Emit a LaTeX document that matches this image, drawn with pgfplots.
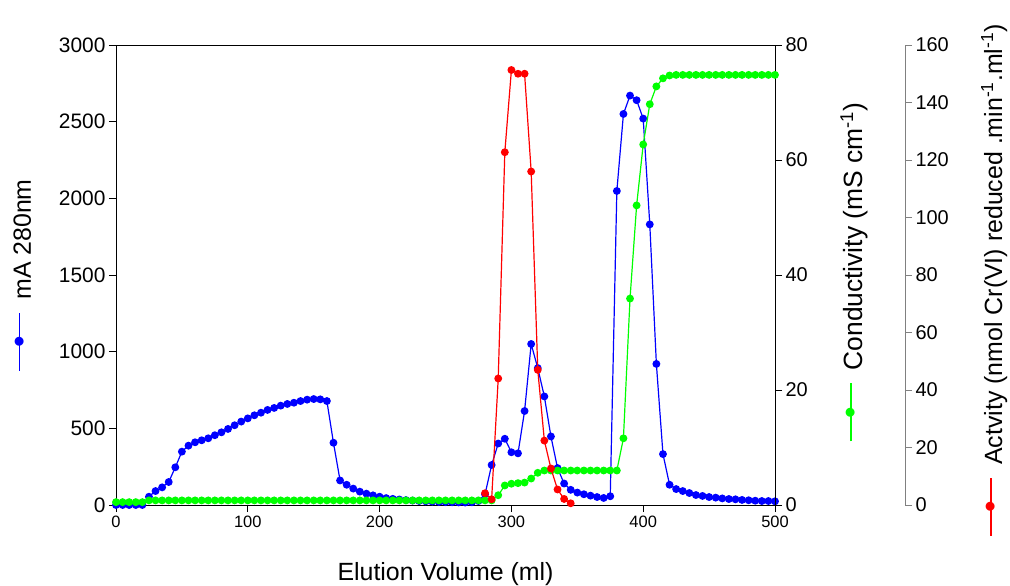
\documentclass[border=0pt]{standalone}
\usepackage{fontspec}
\setmainfont{Liberation Sans}
\usepackage{pgfplots}
\pgfplotsset{compat=1.18}
\definecolor{cblue}{RGB}{0,0,255}
\definecolor{cgreen}{RGB}{0,255,0}
\definecolor{cred}{RGB}{255,0,0}
\newcommand\legsym[1]{{\color{#1}\rlap{\rule[10.5bp]{58bp}{1.3bp}}\makebox[58bp][c]{\raisebox{0.4bp}{\fontsize{33}{33}\selectfont\textbullet}}}}
\pgfplotsset{
  every axis/.append style={
    scale only axis, width=659bp, height=460bp,
    at={(0,0)}, anchor=south west, clip=false,
    /pgf/number format/assume math mode=true,
    /pgf/number format/1000 sep={},
    tick align=outside, major tick length=7bp,
    axis line style={line width=0.8bp},
    every tick/.style={line width=0.8bp, black},
  },
  dat/.style={color=#1, line width=1.2bp, mark=*, mark size=3.3bp, mark options={solid, fill=#1}},
}
\pgfplotstableread{
x y
0 0
5 0
10 0
15 0
20 0
25 54
30 91
35 115
40 150
45 246
50 348
55 387
60 409
65 422
70 435
75 455
80 474
85 496
90 520
95 544
100 565
105 585
110 602
115 620
120 633
125 648
130 659
135 667
140 678
145 687
150 691
155 689
160 678
165 406
170 160
175 132
180 107
185 87
190 74
195 63
200 54
205 45
210 40
215 36
220 32
225 29
230 26
235 24
240 22
245 20
250 19
255 18
260 17
265 16
270 18
275 26
280 70
285 261
290 401
295 432
300 344
305 337
310 613
315 1050
320 893
325 708
330 447
335 241
340 140
345 99
350 81
355 70
360 61
365 52
370 46
375 57
380 2048
385 2550
390 2670
395 2640
400 2520
405 1830
410 920
415 332
420 132
425 104
430 91
435 78
440 65
445 59
450 52
455 48
460 43
465 39
470 37
475 33
480 31
485 28
490 26
495 26
500 24
}\absdata
\pgfplotstableread{
x y
0 0.5
5 0.5
10 0.5
15 0.5
20 0.5
25 0.8
30 0.8
35 0.8
40 0.8
45 0.8
50 0.8
55 0.8
60 0.8
65 0.8
70 0.8
75 0.8
80 0.8
85 0.8
90 0.8
95 0.8
100 0.8
105 0.8
110 0.8
115 0.8
120 0.8
125 0.8
130 0.8
135 0.8
140 0.8
145 0.8
150 0.8
155 0.8
160 0.8
165 0.8
170 0.8
175 0.8
180 0.8
185 0.8
190 0.8
195 0.8
200 0.8
205 0.8
210 0.8
215 0.8
220 0.8
225 0.8
230 0.8
235 0.8
240 0.8
245 0.8
250 0.8
255 0.8
260 0.8
265 0.8
270 0.8
275 0.8
280 0.8
285 0.8
290 1.7
295 3.4
300 3.7
305 3.8
310 3.9
315 4.6
320 5.6
325 6.0
330 6.0
335 6.0
340 6.0
345 6.0
350 6.0
355 6.0
360 6.0
365 6.0
370 6.0
375 6.0
380 6.0
385 11.6
390 35.9
395 52.1
400 62.7
405 69.7
410 72.8
415 74.2
420 74.7
425 74.8
430 74.8
435 74.8
440 74.8
445 74.8
450 74.8
455 74.8
460 74.8
465 74.8
470 74.8
475 74.8
480 74.8
485 74.8
490 74.8
495 74.8
500 74.8
}\conddata
\pgfplotstableread{
x y
280 4.1
285 2.0
290 44
295 122.7
300 151.3
305 150
310 150
315 116
320 47
325 22.4
330 12.7
335 5.4
340 2.1
345 0.6
}\actdata
\begin{document}
\begin{tikzpicture}
\useasboundingbox (-116bp,-81bp) rectangle (894bp,505bp);
\begin{axis}[
  xmin=0, xmax=500, ymin=0, ymax=3000,
  xtick={0,100,...,500}, ytick={0,500,...,3000},
  xtick pos=bottom, ytick pos=left,
  xticklabel style={font=\fontsize{16.5}{18}\selectfont},
  yticklabel style={font=\fontsize{21}{24}\selectfont},
  xlabel={Elution Volume (ml)},
  xlabel style={font=\fontsize{25}{28}\selectfont, at={(axis description cs:0.5,0)}, anchor=base, yshift=-75bp},
]
\addplot[dat=cblue] table[x=x,y=y] {\absdata};
\end{axis}
\begin{axis}[
  xmin=0, xmax=500, ymin=0, ymax=80,
  hide x axis, axis y line*=right,
  ytick={0,20,...,80},
  yticklabel style={font=\fontsize{20}{24}\selectfont},
]
\addplot[dat=cgreen] table[x=x,y=y] {\conddata};
\end{axis}
\begin{axis}[
  at={(130bp,0)},
  xmin=98.634, xmax=598.634, ymin=0, ymax=160,
  hide x axis, axis y line*=right,
  y axis line style={gray},
  ytick style={gray},
  ytick={0,20,...,160},
  yticklabel style={font=\fontsize{20}{24}\selectfont},
]
\addplot[dat=cred] table[x=x,y=y] {\actdata};
\end{axis}
\node[rotate=90, anchor=base, font=\fontsize{25}{28}\selectfont] at (-85bp,230bp) {\legsym{cblue}\hspace{13bp}mA 280nm};
\node[rotate=90, anchor=base, font=\fontsize{26.5}{29}\selectfont] at (746bp,233bp) {\legsym{cgreen}\hspace{13bp}Conductivity (mS cm\textsuperscript{-1})};
\node[rotate=90, anchor=base, font=\fontsize{25}{28}\selectfont] at (886bp,225bp) {\legsym{cred}\hspace{13bp}Actvity (nmol Cr(VI) reduced .min\textsuperscript{-1}.ml\textsuperscript{-1})};
\end{tikzpicture}
\end{document}
